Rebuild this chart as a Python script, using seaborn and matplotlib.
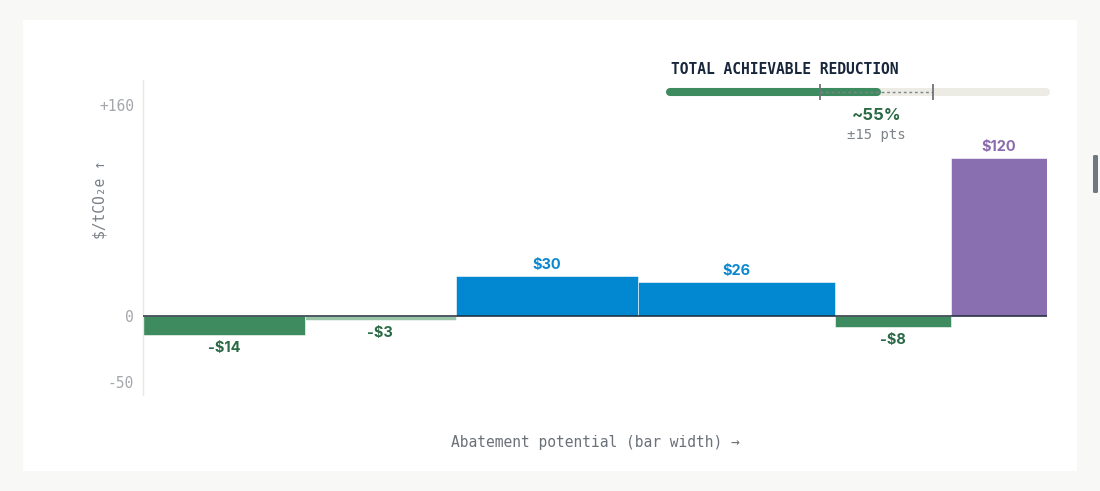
import numpy as np
import matplotlib
matplotlib.use("Agg")
import matplotlib.pyplot as plt
import seaborn as sns
from matplotlib.patches import Rectangle, FancyBboxPatch

# ---- data ----
widths = [16, 15, 18, 19.5, 11.5, 9.5]          # abatement potential (bar width)
costs = [-14, -3, 30, 26, -8, 120]              # $/tCO2e
cost_labels = ["-$14", "-$3", "$30", "$26", "-$8", "$120"]
bar_colors = ["#3e8b5f", "#98c4a7", "#0288d1", "#0288d1", "#3e8b5f", "#8a6fb0"]
label_colors = ["#2b6a45", "#2b6a45", "#0a87cf", "#0a87cf", "#2b6a45", "#8a6cae"]
yticks = [-50, 0, 160]
ytick_labels = ["-50", "0", "+160"]

achieved_pct = 55
band_low, band_high = 40, 70

PAGE_BG = "#f8f8f6"
MONO = ["DejaVu Sans Mono", "DejaVu Sans"]
SANS = ["Inter", "DejaVu Sans"]

sns.set_theme(style="white")
plt.rcParams["font.family"] = MONO

fig = plt.figure(figsize=(11, 4.91), dpi=100, facecolor=PAGE_BG)

# white card + scrollbar thumb
fig.patches.append(Rectangle((23 / 1100, 1 - 471 / 491), 1054 / 1100, 451 / 491,
                             transform=fig.transFigure, facecolor="white",
                             edgecolor="none", zorder=-10))
fig.patches.append(FancyBboxPatch((1093 / 1100, 1 - 193 / 491), 5 / 1100, 38 / 491,
                                  boxstyle="round,pad=0,rounding_size=0.002",
                                  transform=fig.transFigure, facecolor="#6f7882",
                                  edgecolor="none", zorder=-9))

# ---- main cost curve ----
ax = fig.add_axes([143 / 1100, 1 - 395 / 491, 904 / 1100, 315 / 491])
ax.set_facecolor("none")

lefts = np.concatenate([[0], np.cumsum(widths)[:-1]])
ax.bar(lefts, costs, width=widths, align="edge", color=bar_colors,
       edgecolor="white", linewidth=0.4, zorder=2)
ax.axhline(0, color="#1f2d38", lw=1.1, zorder=3)

for left, w, c, lab, col in zip(lefts, widths, costs, cost_labels, label_colors):
    off = 8 if c >= 0 else -9.5
    ax.annotate(lab, (left + w / 2, c), xytext=(0, off), textcoords="offset points",
                ha="center", va="center", fontsize=10.5, fontweight="bold",
                color=col, family=SANS)

ax.set_xlim(0, sum(widths))
ax.set_ylim(-59.8, 178.8)
ax.set_xticks([])
ax.set_yticks(yticks)
ax.set_yticklabels(ytick_labels)
ax.tick_params(axis="y", length=0, pad=6.5, labelsize=10.5, labelcolor="#a3a7ab")
for s in ["top", "right", "bottom"]:
    ax.spines[s].set_visible(False)
ax.spines["left"].set_color("#e8e8e2")
ax.spines["left"].set_linewidth(1)

ax.set_xlabel("Abatement potential (bar width) \u2192", fontsize=10.5,
              color="#6b7178", labelpad=29)
ax.set_ylabel("$/tCO\u2082e \u2191", fontsize=10.5, color="#7a8088")
ax.yaxis.set_label_coords(-0.039, 0.62)

# ---- total achievable reduction gauge ----
ax2 = fig.add_axes([670 / 1100, 1 - 102 / 491, 376 / 1100, 20 / 491])
ax2.set_xlim(0, 100)
ax2.set_ylim(-1, 1)
ax2.axis("off")
ax2.plot([0, 100], [0, 0], lw=5.8, color="#ecebe4", solid_capstyle="round",
         clip_on=False)
ax2.plot([0, achieved_pct], [0, 0], lw=5.8, color="#3e8b5f", solid_capstyle="round",
         clip_on=False)
ax2.plot([band_low, band_high], [0, 0], lw=1, color="#7d858c", ls=(0, (2, 2)))
ax2.vlines([band_low, band_high], -0.8, 0.8, color="#6e757c", lw=1.3)

ax2.text(0.3, 2.3, "TOTAL ACHIEVABLE REDUCTION", ha="left", va="center",
         fontsize=10.5, fontweight="bold", color="#17263a", clip_on=False)
ax2.text(achieved_pct, -2.4, f"~{achieved_pct}%", ha="center", va="center",
         fontsize=12, fontweight="bold", color="#2b6a45", family=SANS, clip_on=False)
ax2.text(achieved_pct, -4.3, f"\u00b1{band_high - achieved_pct} pts", ha="center",
         va="center", fontsize=10, color="#7d8389", clip_on=False)

fig.savefig("out.png", dpi=100, facecolor=PAGE_BG)
